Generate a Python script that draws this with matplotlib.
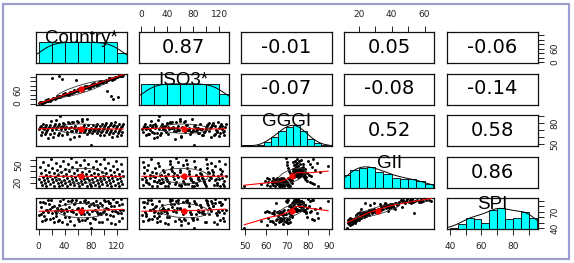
import numpy as np
import matplotlib
matplotlib.use("Agg")
import matplotlib.pyplot as plt
from matplotlib.patches import Rectangle

# one entry per country (factor codes for Country* and ISO3*)
country = [81, 31, 112, 62, 12, 93, 43, 124, 74, 24,
           105, 55, 5, 86, 36, 117, 67, 17, 98, 48,
           129, 79, 29, 110, 60, 10, 91, 41, 122, 72,
           22, 103, 53, 3, 84, 34, 115, 65, 15, 96,
           46, 127, 77, 27, 108, 58, 8, 89, 39, 120,
           70, 20, 101, 51, 1, 82, 32, 113, 63, 13,
           94, 44, 125, 75, 25, 106, 56, 6, 87, 37,
           118, 68, 18, 99, 49, 130, 80, 30, 111, 61,
           11, 92, 42, 123, 73, 23, 104, 54, 4, 85,
           35, 116, 66, 16, 97, 47, 128, 78, 28, 109,
           59, 9, 90, 40, 121, 71, 21, 102, 52, 2,
           83, 33, 114, 64, 14, 95, 45, 126, 76, 26,
           107, 57, 7, 88, 38, 119, 69, 19, 100, 50]
iso3 = [81, 122, 36, 62, 17, 99, 41, 128, 78, 24,
        58, 61, 2, 86, 112, 117, 67, 12, 98, 52,
        126, 72, 29, 116, 66, 10, 85, 43, 31, 79,
        25, 97, 53, 7, 80, 34, 20, 65, 19, 96,
        40, 127, 77, 27, 113, 105, 8, 89, 39, 120,
        76, 115, 95, 51, 1, 88, 32, 108, 68, 13,
        94, 38, 125, 75, 22, 106, 56, 6, 87, 37,
        118, 63, 18, 93, 49, 130, 84, 30, 111, 55,
        14, 92, 42, 123, 73, 23, 104, 50, 4, 91,
        35, 110, 60, 16, 103, 47, 124, 74, 33, 109,
        59, 9, 90, 46, 121, 71, 21, 102, 48, 5,
        83, 28, 114, 64, 11, 101, 45, 129, 70, 26,
        107, 57, 3, 82, 44, 119, 69, 15, 100, 54]
gggi = [49.5, 66.5, 70.1, 61.8, 67.5, 71.0, 64.1, 68.6, 84.8, 66.1,
        69.7, 60.4, 67.1, 70.6, 63.2, 68.1, 82.6, 65.0, 69.3, 57.6,
        66.7, 70.2, 62.6, 67.7, 81.5, 64.4, 68.7, 72.0, 66.2, 69.8,
        60.7, 67.3, 80.7, 63.5, 68.3, 71.6, 65.3, 69.5, 59.4, 66.8,
        79.5, 62.9, 67.9, 71.3, 64.7, 68.9, 72.2, 66.3, 78.8, 61.3,
        67.4, 70.8, 63.8, 68.5, 71.7, 65.9, 78.4, 60.1, 66.9, 70.5,
        63.0, 68.0, 71.4, 64.9, 77.8, 72.3, 75.2, 79.0, 73.2, 76.2,
        81.1, 74.0, 77.4, 71.9, 74.8, 78.5, 72.8, 75.7, 80.3, 73.6,
        76.8, 71.5, 74.5, 78.0, 72.4, 75.3, 79.2, 73.3, 76.4, 71.1,
        74.1, 77.5, 85.6, 75.0, 78.6, 72.9, 75.8, 70.7, 73.8, 77.0,
        83.2, 74.6, 78.2, 72.6, 75.4, 70.4, 73.4, 76.5, 81.9, 74.2,
        77.6, 89.4, 75.1, 69.9, 73.0, 76.0, 80.9, 73.9, 77.2, 84.0,
        74.7, 69.6, 72.7, 75.6, 79.9, 73.5, 76.6, 82.3, 74.4, 69.2]
gii = [13.2, 13.5, 13.8, 13.9, 14.0, 14.1, 14.3, 14.5, 14.6, 14.7,
       14.8, 14.9, 15.3, 15.8, 16.0, 16.2, 16.6, 17.0, 17.2, 17.4,
       17.7, 18.1, 18.4, 18.6, 18.8, 19.1, 19.3, 19.5, 19.8, 20.2,
       20.5, 20.7, 20.9, 21.1, 21.3, 21.6, 22.0, 22.3, 22.5, 22.7,
       23.0, 23.4, 23.6, 23.8, 24.1, 24.3, 24.5, 24.8, 25.2, 25.5,
       25.7, 25.9, 26.1, 26.3, 26.6, 26.8, 27.0, 27.3, 27.5, 27.7,
       28.0, 28.4, 28.6, 28.8, 29.1, 29.3, 29.5, 29.8, 30.3, 30.7,
       30.9, 31.1, 31.5, 31.9, 32.0, 32.3, 32.7, 33.1, 33.5, 33.7,
       33.9, 34.3, 34.7, 35.3, 35.8, 36.2, 36.4, 36.7, 37.1, 37.6,
       37.9, 38.0, 38.5, 38.9, 39.4, 39.8, 40.4, 41.0, 41.6, 41.9,
       42.2, 42.8, 43.4, 44.0, 44.6, 45.5, 46.1, 46.5, 46.8, 47.4,
       48.1, 48.7, 49.4, 50.6, 51.2, 51.9, 52.2, 52.5, 53.2, 53.8,
       54.5, 55.6, 56.4, 57.3, 57.7, 58.1, 59.0, 60.8, 62.4, 64.0]
spi = [40.3, 54.9, 49.6, 52.6, 57.1, 51.2, 47.3, 53.8, 58.4, 50.3,
       55.8, 46.2, 53.0, 57.5, 51.7, 48.1, 54.6, 56.2, 50.8, 53.4,
       58.0, 48.9, 52.1, 63.7, 56.7, 54.2, 65.6, 60.5, 67.9, 55.3,
       58.8, 66.8, 68.9, 65.1, 59.3, 75.3, 62.1, 65.9, 69.0, 65.3,
       59.7, 68.4, 66.2, 62.9, 87.0, 65.4, 61.3, 68.7, 67.0, 69.2,
       66.5, 68.1, 70.6, 73.1, 64.5, 71.9, 83.3, 71.3, 69.7, 72.6,
       67.3, 70.8, 73.6, 69.5, 72.1, 74.6, 86.1, 70.1, 73.0, 73.8,
       71.1, 72.3, 74.8, 70.3, 71.8, 73.3, 84.6, 72.8, 81.2, 77.1,
       74.1, 78.9, 75.8, 82.9, 85.8, 79.8, 76.2, 83.8, 78.0, 81.6,
       71.6, 80.3, 76.7, 85.2, 82.0, 78.5, 84.2, 80.7, 77.6, 85.5,
       74.3, 86.4, 82.5, 84.9, 87.5, 91.0, 79.4, 89.3, 92.3, 88.4,
       86.9, 90.2, 93.3, 87.8, 91.5, 86.7, 89.6, 92.7, 88.7, 67.6,
       90.8, 91.7, 88.1, 89.8, 93.0, 87.3, 89.0, 91.3, 92.0, 90.6]

labels = ["Country*", "ISO3*", "GGGI", "GII", "SPI"]
# correlations shown in the upper panels, read row by row
cor_upper = [0.87, -0.01, 0.05, -0.06, -0.07, -0.08, -0.14, 0.52, 0.58, 0.86]

# histogram breaks on the diagonal
code_breaks = [0, 20, 40, 60, 80, 100, 120, 140]
gggi_breaks = [48.7, 52.1, 55.5, 58.9, 62.3, 65.7, 69.1, 72.5, 75.9, 79.3, 82.7, 86.1, 89.5]
gii_breaks = [10, 15, 20, 25, 30, 35, 40, 45, 50, 55, 60, 65]
spi_breaks = [40, 45, 50, 55, 60, 65, 70, 75, 80, 85, 90, 95]

# outer axis ticks, and which ones get a label (x sides / y sides)
code_ticks = [0, 20, 40, 60, 80, 100, 120]
code_xlab = ["0", "", "40", "", "80", "", "120"]
code_ylab = ["0", "", "", "60", "", "", ""]
gggi_ticks = [50, 60, 70, 80, 90]
gggi_xlab = ["50", "60", "70", "80", "90"]
gggi_ylab = ["50", "", "", "80", ""]
gii_ticks = [20, 30, 40, 50, 60]
gii_xlab = ["20", "", "40", "", "60"]
gii_ylab = ["20", "", "", "50", ""]
spi_ticks = [40, 50, 60, 70, 80, 90]
spi_xlab = ["40", "", "60", "", "80", ""]
spi_ylab = ["40", "", "", "70", "", ""]

data = [np.array(v, float) for v in (country, iso3, gggi, gii, spi)]
breaks = [code_breaks, code_breaks, gggi_breaks, gii_breaks, spi_breaks]
ticks = [(code_ticks, code_xlab, code_ylab), (code_ticks, code_xlab, code_ylab),
         (gggi_ticks, gggi_xlab, gggi_ylab), (gii_ticks, gii_xlab, gii_ylab),
         (spi_ticks, spi_xlab, spi_ylab)]

cor = np.eye(5)
k = 0
for a in range(5):
    for b in range(a + 1, 5):
        cor[a, b] = cor[b, a] = cor_upper[k]
        k += 1


def lowess(x, y, f=2 / 3, iters=3):
    order = np.argsort(x, kind="mergesort")
    x, y = x[order], y[order]
    n = len(x)
    ns = max(2, min(n, int(f * n + 1e-7)))
    rw = np.ones(n)
    fit = np.zeros(n)
    for it in range(iters + 1):
        for i in range(n):
            d = np.abs(x - x[i])
            h = np.sort(d)[ns - 1]
            u = np.clip(d / max(h, 1e-9), 0, 1)
            w = (1 - u ** 3) ** 3 * rw
            sw = w.sum()
            xm, ym = (w * x).sum() / sw, (w * y).sum() / sw
            sxx = (w * (x - xm) ** 2).sum()
            b = (w * (x - xm) * (y - ym)).sum() / sxx if sxx > 1e-9 else 0.0
            fit[i] = ym + b * (x[i] - xm)
        res = np.abs(y - fit)
        cmad = 6 * np.median(res)
        if cmad <= 0:
            break
        rw = (1 - np.clip(res / cmad, 0, 1) ** 2) ** 2
    return x, fit


def density(x):
    q1, q3 = np.percentile(x, [25, 75])
    bw = 1.06 * min(np.std(x, ddof=1), (q3 - q1) / 1.34) * len(x) ** -0.2 * 1.2
    gx = np.linspace(x.min() - 3 * bw, x.max() + 3 * bw, 512)
    gy = np.exp(-0.5 * ((gx[:, None] - x[None, :]) / bw) ** 2).sum(axis=1)
    return gx, gy / gy.max()


def style_ticks(ax, axis, side, vals, labs):
    if axis == "x":
        ax.set_xticks(vals)
        ax.set_xticklabels(labs)
        if side == "top":
            ax.xaxis.tick_top()
    else:
        ax.set_yticks(vals)
        ax.set_yticklabels(labs, rotation=90, va="center")
        if side == "right":
            ax.yaxis.tick_right()
    ax.tick_params(axis=axis, direction="out", length=4.5, width=0.7,
                   labelsize=6.5, pad=5, colors="#222222")


fig = plt.figure(figsize=(5.74, 2.63), dpi=100)
W, H = 574, 263
col_left = [36, 138.5, 241, 344, 447]
row_top = [32, 73.5, 115, 156.5, 198]
pw, ph = 90.5, 31

lims = []
for v in data:
    pad = 0.04 * (v.max() - v.min())
    lims.append((v.min() - pad, v.max() + pad))

for i in range(5):
    for j in range(5):
        ax = fig.add_axes([col_left[j] / W, 1 - (row_top[i] + ph) / H, pw / W, ph / H])
        ax.set_xlim(lims[j])
        ax.set_xticks([])
        ax.set_yticks([])
        for s in ax.spines.values():
            s.set_linewidth(0.9)
            s.set_color("#111111")
        x = data[j]
        y = data[i]
        if i == j:
            # histogram + density, R style right-closed bins
            br = np.array(breaks[i], float)
            idx = np.searchsorted(br, x, side="left") - 1
            counts = np.bincount(idx, minlength=len(br) - 1)[:len(br) - 1]
            heights = counts / counts.max()
            ax.set_ylim(0, 1.5)
            ax.bar(br[:-1], heights, width=np.diff(br), align="edge",
                   color="#00ffff", edgecolor="black", linewidth=0.6)
            dx, dy = density(x)
            ax.plot(dx, dy, color="black", lw=0.7)
            ax.text(0.5, 0.64, labels[i], transform=ax.transAxes, ha="center",
                    va="baseline", fontsize=13.5, family="Liberation Sans")
        elif i > j:
            ax.set_ylim(lims[i])
            ax.scatter(x, y, s=4.5, color="black", linewidths=0, zorder=2)
            lx, ly = lowess(x, y)
            ax.plot(lx, ly, color="red", lw=0.8, zorder=3)
            r = cor[i, j]
            theta = np.sign(r) / np.sqrt(2) if r != 0 else 1 / np.sqrt(2)
            shape = np.diag([np.sqrt(1 + r), np.sqrt(1 - r)]) @ np.array([[theta, theta], [-theta, theta]])
            ang = np.linspace(0, 2 * np.pi, 52)
            ell = np.column_stack([np.cos(ang), np.sin(ang)]) @ shape
            ax.plot(ell[:, 0] * x.std(ddof=1) + x.mean(), ell[:, 1] * y.std(ddof=1) + y.mean(),
                    color="#333333", lw=0.6, zorder=3)
            ax.plot(x.mean(), y.mean(), "o", color="red", ms=4.5, mew=0, zorder=4)
        else:
            ax.set_ylim(lims[i])
            ax.text(0.5, 0.5, f"{cor[i, j]:.2f}", transform=ax.transAxes,
                    ha="center", va="center", fontsize=14)

        # outer axes, alternating sides like R pairs()
        if i == 0 and j % 2 == 1:
            style_ticks(ax, "x", "top", ticks[j][0], ticks[j][1])
        if i == 4 and j % 2 == 0:
            style_ticks(ax, "x", "bottom", ticks[j][0], ticks[j][1])
        if j == 0 and i % 2 == 1:
            style_ticks(ax, "y", "left", ticks[i][0], ticks[i][2])
        if j == 4 and i % 2 == 0:
            tax = ax.twinx() if i == j else ax
            tax.set_ylim(lims[i])
            style_ticks(tax, "y", "right", ticks[i][0], ticks[i][2])
            if i == j:
                for s in tax.spines.values():
                    s.set_visible(False)

# frame around the whole picture
fig.patches.append(Rectangle((3 / W, 4 / H), 566 / W, 255 / H, transform=fig.transFigure,
                             fill=False, edgecolor="#9d9dd0", lw=1.6))

fig.savefig("out.png", dpi=100)
